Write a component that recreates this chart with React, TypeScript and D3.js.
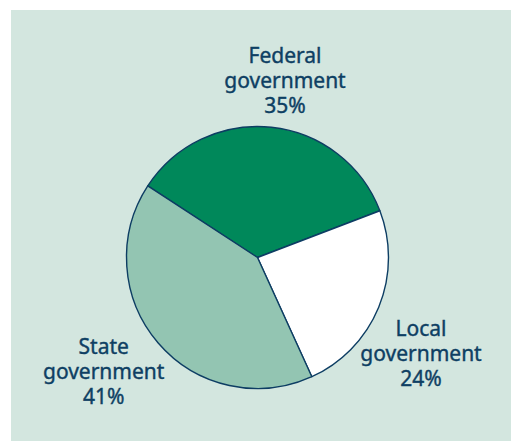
import React from "react";
import * as d3 from "d3";

const categories = ["Federal government", "Local government", "State government"];
const shares = [35, 24, 41];
const labelLines = [
  ["Federal", "government", "35%"],
  ["Local", "government", "24%"],
  ["State", "government", "41%"],
];
const fills = ["#00885a", "#ffffff", "#93c5b2"];

const W = 511;
const H = 441;
const cx = 257.5;
const cy = 257.5;
const R = 131;
const labelPos = [
  { x: 285, y: 63.3 },
  { x: 421, y: 336 },
  { x: 103.7, y: 354.3 },
];
const lineH = 25;

export default function App() {
  const pie = d3
    .pie<number>()
    .sort(null)
    .value((d) => d)
    .startAngle((-56.9 * Math.PI) / 180)
    .endAngle(((360 - 56.9) * Math.PI) / 180);
  const arcs = pie(shares);
  const arc = d3.arc<d3.PieArcDatum<number>>().innerRadius(0).outerRadius(R);

  return (
    <svg
      width={W}
      height={H}
      style={{ position: "absolute", left: 0, top: 0 }}
    >
      <rect x={0} y={0} width={W} height={H} fill="#ffffff" />
      <rect x={11} y={10} width={W - 11} height={H - 10} fill="#d3e6df" />
      <g transform={`translate(${cx},${cy})`}>
        {arcs.map((a, i) => (
          <path
            key={categories[i]}
            d={arc(a) || ""}
            fill={fills[i]}
            stroke="#0d3d63"
            strokeWidth={1.4}
            strokeLinejoin="round"
          />
        ))}
      </g>
      {labelLines.map((lines, i) =>
        lines.map((l, j) => (
          <text
            key={`${categories[i]}-${j}`}
            x={labelPos[i].x}
            y={labelPos[i].y + j * lineH}
            textAnchor="middle"
            fill="#0e3f63"
            stroke="#0e3f63"
            strokeWidth={0.4}
            fontFamily="'Noto Sans', sans-serif"
            fontSize={21}
          >
            {l}
          </text>
        ))
      )}
    </svg>
  );
}
